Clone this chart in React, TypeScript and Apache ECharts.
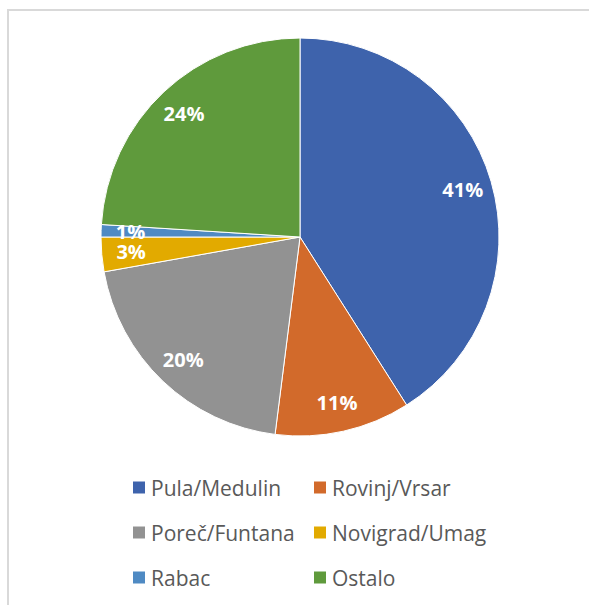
import React, { useEffect, useRef } from "react";
import * as echarts from "echarts";

const categories = ["Pula/Medulin", "Rovinj/Vrsar", "Poreč/Funtana", "Novigrad/Umag", "Rabac", "Ostalo"];
const values = [41.0, 11.0, 20.2, 2.8, 1.0, 24.0];
const colors = ["#3E63AC", "#D26A2B", "#929292", "#E2AA00", "#4F8AC3", "#5F9A3C"];
const legendLeft = ["Pula/Medulin", "Poreč/Funtana", "Rabac"];
const legendRight = ["Rovinj/Vrsar", "Novigrad/Umag", "Ostalo"];

export default function App() {
  const ref = useRef<HTMLDivElement>(null);
  useEffect(() => {
    if (!ref.current) return;
    const chart = echarts.init(ref.current, null, { renderer: "svg" });
    const data = categories.map((n, i) => ({ name: n, value: values[i], itemStyle: { color: colors[i] } }));
    const legendCommon = {
      orient: "vertical" as const,
      top: 472,
      icon: "rect",
      itemWidth: 14,
      itemHeight: 14,
      itemGap: 24,
      textStyle: { fontFamily: "Open Sans", fontSize: 21, color: "#595959", lineHeight: 19 },
      selectedMode: false,
    };
    chart.setOption({
      animation: false,
      backgroundColor: "#ffffff",
      graphic: [
        {
          type: "rect",
          shape: { x: 8, y: 10, width: 700, height: 700 },
          style: { fill: "none", stroke: "#d9d9d9", lineWidth: 2 },
          silent: true,
        },
      ],
      legend: [
        { ...legendCommon, left: 126, data: legendLeft },
        { ...legendCommon, left: 307, data: legendRight },
      ],
      series: [
        {
          type: "pie",
          center: [300, 237],
          radius: [0, 199],
          startAngle: 90,
          clockwise: true,
          label: { show: false },
          labelLine: { show: false },
          itemStyle: { borderColor: "#ffffff", borderWidth: 1 },
          emphasis: { disabled: true },
          data,
        },
        {
          type: "pie",
          center: [300, 237],
          radius: [134, 199],
          startAngle: 90,
          clockwise: true,
          silent: true,
          itemStyle: { color: "rgba(0,0,0,0)", borderWidth: 0 },
          label: {
            show: true,
            position: "inside",
            formatter: (p: any) => Math.round(p.value) + "%",
            fontFamily: "Open Sans",
            fontWeight: "bold",
            fontSize: 20,
            lineHeight: 17,
            color: "#ffffff",
          },
          labelLine: { show: false },
          emphasis: { disabled: true },
          data: categories.map((n, i) => ({ name: n, value: values[i], itemStyle: { color: "rgba(0,0,0,0)" } })),
        },
      ],
    });
    return () => chart.dispose();
  }, []);
  return <div ref={ref} style={{ position: "absolute", left: 0, top: 0, width: 589, height: 605 }} />;
}
